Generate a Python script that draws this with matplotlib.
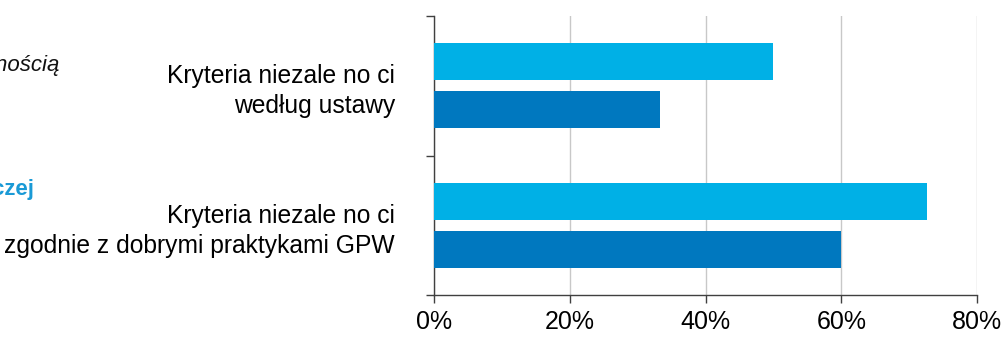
import matplotlib
matplotlib.use("Agg")
import matplotlib.pyplot as plt
from matplotlib.ticker import FixedLocator, NullFormatter

# Data
categories = ["Kryteria niezale no ci\nwedług ustawy",
              "Kryteria niezale no ci\nzgodnie z dobrymi praktykami GPW"]
series_light = [0.50, 0.727]
series_dark = [0.333, 0.60]
x_ticks = [0.0, 0.2, 0.4, 0.6, 0.8]
x_tick_labels = ["0%", "20%", "40%", "60%", "80%"]

LIGHT = "#00B0E6"
DARK = "#0078BF"
FONT = ["Liberation Sans", "DejaVu Sans"]

plt.rcParams["font.family"] = FONT

fig = plt.figure(figsize=(10.04, 3.46), dpi=100)
ax = fig.add_axes([434 / 1004, 1 - 295.3 / 346, (977 - 434) / 1004, (295.3 - 15.7) / 346])

bar_h = 37 / 140
light_off = (61.8 - 15.7) / 140
dark_off = (109.5 - 15.7) / 140
for i, (lv, dv) in enumerate(zip(series_light, series_dark)):
    ax.barh(i + light_off, lv, height=bar_h, color=LIGHT, zorder=3)
    ax.barh(i + dark_off, dv, height=bar_h, color=DARK, zorder=3)

ax.set_xlim(0, 0.8)
ax.set_ylim(len(categories), 0)

ax.set_xticks(x_ticks)
ax.set_xticklabels(x_tick_labels)
ax.xaxis.grid(True, color="#C8C8C8", linewidth=1.0, zorder=0)
ax.set_axisbelow(True)

# Category boundaries carry the tick marks; labels sit at the category centres
ax.yaxis.set_major_locator(FixedLocator(range(len(categories) + 1)))
ax.yaxis.set_major_formatter(NullFormatter())
ax.yaxis.set_minor_locator(FixedLocator([i + 0.5 for i in range(len(categories))]))
ax.set_yticklabels(categories, minor=True)
ax.tick_params(axis="y", which="minor", length=0, pad=28, labelsize=17.7)
ax.tick_params(axis="y", which="major", length=5.5, width=1.0, color="#404040", direction="out")
ax.tick_params(axis="x", length=5.5, width=1.0, color="#404040", direction="out",
               pad=5, labelsize=18)
for lab in ax.get_yticklabels(minor=True):
    lab.set_multialignment("right")
    lab.set_linespacing(1.3)

for side in ("top", "right"):
    ax.spines[side].set_visible(False)
for side in ("left", "bottom"):
    ax.spines[side].set_color("#404040")
    ax.spines[side].set_linewidth(1.0)

# Fragments of neighbouring captions reaching in from the left margin
fig.text(60 / 1004, 1 - 66 / 346, "z niezależnością", ha="right", va="center",
         fontsize=16, style="italic", color="#111111")
fig.text(34 / 1004, 1 - 190 / 346, "Rady Nadzorczej", ha="right", va="center",
         fontsize=16, weight="bold", color="#1A9AD6")

fig.savefig("out.png", dpi=100)
